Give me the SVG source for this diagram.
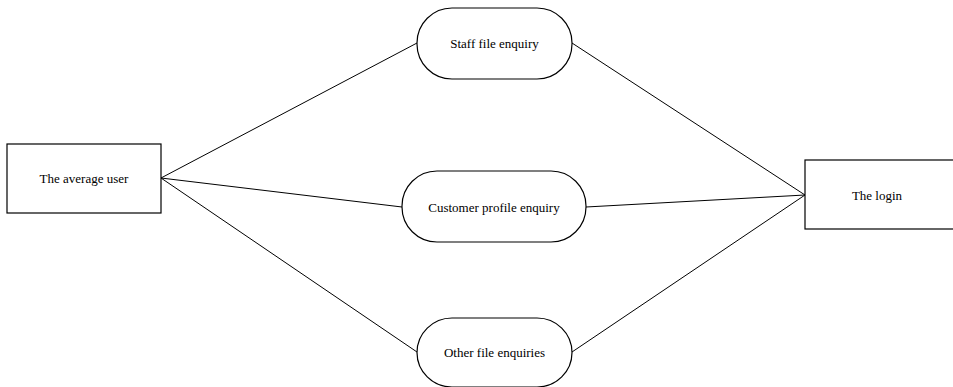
<svg xmlns="http://www.w3.org/2000/svg" width="953" height="387" viewBox="0 0 953 387">
<style>
.n{fill:#fff;stroke:#000;stroke-width:1.2}
.t{font-family:'Liberation Serif','Times New Roman',serif;font-size:13px;fill:#000;text-anchor:middle}
.c{stroke:#000;stroke-width:1;fill:none}
</style>
<rect width="953" height="387" fill="#fff"/>
<g id="connectors">
<line class="c" x1="161" y1="178" x2="417" y2="43"/>
<line class="c" x1="161" y1="178" x2="402" y2="207"/>
<line class="c" x1="161" y1="178" x2="417" y2="352"/>
<line class="c" x1="572" y1="43" x2="805" y2="195"/>
<line class="c" x1="586" y1="207" x2="805" y2="195"/>
<line class="c" x1="572" y1="352" x2="805" y2="195"/>
</g>
<g id="user"><rect class="n" x="7" y="144" width="154" height="69"/><text class="t" x="84" y="182.5">The average user</text></g>
<g id="staff"><rect class="n" x="417" y="8" width="155" height="71" rx="35" ry="35"/><text class="t" x="494.5" y="47.5">Staff file enquiry</text></g>
<g id="customer"><rect class="n" x="402" y="171" width="184" height="71" rx="35" ry="35"/><text class="t" x="494" y="211.5">Customer profile enquiry</text></g>
<g id="other"><rect class="n" x="417" y="318" width="155" height="69" rx="35" ry="35"/><text class="t" x="494.5" y="356.5">Other file enquiries</text></g>
<g id="login"><rect class="n" x="805" y="160" width="160" height="69"/><text class="t" x="877" y="199.5">The login</text></g>
</svg>
